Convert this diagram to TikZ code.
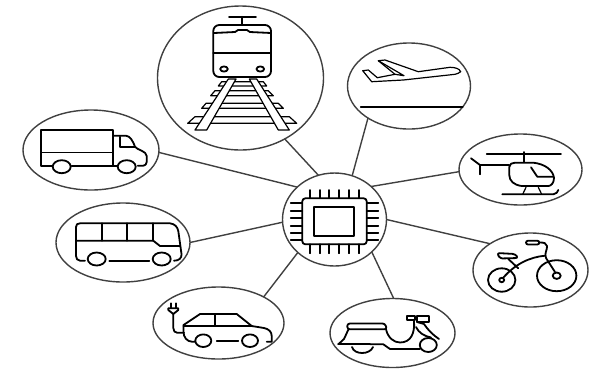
\documentclass[tikz,border=0pt]{standalone}
\usetikzlibrary{shapes.geometric}
\tikzset{
  vehicle/.style={draw=black!75, line width=1.4pt, ellipse, inner sep=0pt, outer sep=0pt},
  spoke/.style={draw=black!75, line width=1.4pt},
  icon/.style={line width=1.8pt, line join=round, line cap=round},
  thinicon/.style={line width=1.2pt, line join=round, line cap=round}
}
\begin{document}
\begin{tikzpicture}[x=1pt, y=-1pt]
  \useasboundingbox (0,0) rectangle (597,368);

  % Ellipses
  \node[vehicle, minimum width=104pt, minimum height=93pt] (hub) at (334.5,219.5) {};
  \node[vehicle, minimum width=166pt, minimum height=144pt] (train) at (240.5,78) {};
  \node[vehicle, minimum width=123pt, minimum height=86pt] (plane) at (409,86) {};
  \node[vehicle, minimum width=123pt, minimum height=71pt] (heli) at (520.5,169.5) {};
  \node[vehicle, minimum width=115pt, minimum height=74pt] (bike) at (530.5,270) {};
  \node[vehicle, minimum width=125pt, minimum height=69pt] (scooter) at (392.5,333) {};
  \node[vehicle, minimum width=131pt, minimum height=72pt] (ecar) at (218.5,323) {};
  \node[vehicle, minimum width=134pt, minimum height=79pt] (bus) at (123,242.5) {};
  \node[vehicle, minimum width=136pt, minimum height=80pt] (truck) at (91,150) {};

  % Spokes
  \draw[spoke] (hub.110) -- (train.-54);
  \draw[spoke] (hub.68.5) -- (plane.-142);
  \draw[spoke] (hub.42.5) -- (heli.-178);
  \draw[spoke] (hub.0) -- (bike.147.6);
  \draw[spoke] (hub.-41.8) -- (scooter.88);
  \draw[spoke] (hub.-138) -- (ecar.30);
  \draw[spoke] (hub.-177) -- (bus.0);
  \draw[spoke] (hub.139) -- (truck.-2);

  % Chip
  \draw[icon, rounded corners=3pt] (302.3,198.3) rectangle (366.7,244.3);
  \draw[icon] (314.3,207.3) rectangle (354.3,235.7);
  \foreach \x in {310,319.7,329.3,339.3,349.3,359} {
    \draw[icon] (\x,190) -- (\x,198.3);
    \draw[icon] (\x,244.3) -- (\x,253.3);
  }
  \foreach \y in {203.3,210.7,218.3,225.7,233,240} {
    \draw[icon] (290.7,\y) -- (302.3,\y);
    \draw[icon] (366.7,\y) -- (378.3,\y);
  }

  % Train
  \foreach \ya/\yb/\xa/\xb/\xc/\xd in {81.7/86/218.3/221.7/263.3/266.7, 90.7/95.7/210.7/215/268.3/273.3,
      103.3/108.3/201.7/206/278.3/283.3, 116.7/123.3/187.7/195/289.3/296.7} {
    \draw[thinicon, fill=white] (\xb,\ya) -- (\xc,\ya) -- (\xd,\yb) -- (\xa,\yb) -- cycle;
  }
  \draw[thinicon, fill=white] (228.3,79) -- (236,79) -- (206.7,130) -- (195,130) -- cycle;
  \draw[thinicon, fill=white] (249.3,79) -- (256.7,79) -- (289.3,130) -- (278.3,130) -- cycle;
  \draw[icon] (229,16.7) -- (256,16.7);
  \draw[icon] (242.3,16.7) -- (242.3,25);
  \draw[icon, rounded corners=6pt, fill=white] (213.3,25) rectangle (271,77);
  \draw[icon] (213.3,53.3) -- (271,53.3);
  \draw[icon] (214,33) -- (235,32) -- (238,30) -- (247,30) -- (250,32) -- (271,33);
  \draw[icon] (224,69) ellipse (3.8pt and 2.6pt);
  \draw[icon] (260.3,69) ellipse (3.8pt and 2.6pt);

  % Plane
  \draw[thinicon] (362.7,70.7) -- (368.3,70) -- (377.3,77.7) -- (395,74.3) -- (378.3,60.7) -- (385,60)
    -- (418.3,71.7) -- (450,67.3) .. controls (456,67.5) and (459,68.5) .. (460.7,71.7)
    .. controls (459,73) and (457,74) .. (455,74.3) -- (403.3,80) -- (371.7,81.7) -- cycle;
  \draw[thinicon] (378.3,60.7) -- (404,75.7) -- (395,74.3);
  \draw[icon] (360.7,106.7) -- (462.7,106.7);

  % Helicopter
  \draw[icon] (486.7,154) -- (561,154);
  \draw[icon] (524,152) -- (524,162);
  \draw[icon] (471,158.3) -- (480,165) -- (509.3,165);
  \draw[icon] (480,165) -- (480,174.3);
  \draw[icon] (515,162.7) -- (533.3,162.7) .. controls (545,164) and (553,170) .. (554,178)
    .. controls (554,183) and (551,186) .. (548.3,186) -- (521.7,186)
    .. controls (514,185) and (509.3,181) .. (509.3,175) -- (509.3,167) .. controls (509.3,164) and (512,162.7) .. (515,162.7);
  \draw[icon] (531,167.3) -- (537.3,176.7) -- (553.3,176.7);
  \draw[icon] (502.3,194.3) -- (553.3,194.3) .. controls (556,194) and (558,192) .. (558.3,190);
  \draw[thinicon] (526,187.3) -- (522.7,194.3);
  \draw[thinicon] (538.3,187.3) -- (541.7,194.3);

  % Bicycle
  \draw[icon] (501.7,280) ellipse (13.7pt and 11.7pt);
  \draw[icon] (501.7,280) ellipse (2.5pt and 2.2pt);
  \draw[icon] (556.7,275.7) ellipse (19.7pt and 15.5pt);
  \draw[icon] (556.7,275.7) ellipse (4pt and 3.2pt);
  \draw[icon] (503,278) .. controls (515,264) and (530,257) .. (545,255.7);
  \draw[icon] (555,272) -- (546,258) .. controls (544,253) and (547.5,250) .. (547,246)
    .. controls (546.5,243) and (544,242.5) .. (539.3,242.5);
  \draw[icon, rounded corners=2pt] (526,240.7) rectangle (539.3,244.5);
  \draw[icon, rounded corners=2.5pt] (497,253) -- (515,254) -- (518.3,258) -- (500,258.5) -- cycle;
  \draw[icon] (508.3,259) -- (518.3,268.3);

  % Scooter
  \draw[icon, rounded corners=2.5pt] (347.3,323.5) -- (385,323.5) -- (387,329.3) -- (347.3,329.3) -- cycle;
  \draw[icon] (338.3,344.3) -- (344,339) .. controls (346,335) and (347,332) .. (348.5,329.3);
  \draw[icon] (338.3,344.3) -- (370,344.3);
  \draw[icon] (370,344.3) -- (383.3,344.3) -- (390,349) -- (420,349);
  \draw[icon] (386,329.3) .. controls (388,338) and (394,342.5) .. (400,342.5)
    .. controls (411,342.5) and (415,333) .. (414,321);
  \draw[icon] (352,347) .. controls (354,355) and (370,355) .. (373,347);
  \draw[icon] (428.3,345) ellipse (8.5pt and 7pt);
  \draw[icon] (417,322) -- (424,324) .. controls (428,330) and (433,335) .. (439,339);
  \draw[icon] (416,327) .. controls (419,333) and (424,336) .. (431,337.5);
  \draw[icon] (407.3,315.7) rectangle (415,320);
  \draw[icon] (416.7,315.7) rectangle (429.3,321.7);

  % Electric car
  \draw[icon] (171,303.3) -- (171,308.3);
  \draw[icon] (175.7,303.3) -- (175.7,308.3);
  \draw[icon] (168.3,308.3) -- (178.3,308.3) -- (178.3,310) -- (173.3,314) -- (168.3,310) -- cycle;
  \draw[icon] (173.3,314) -- (173.3,328) .. controls (173.3,331) and (175,332.7) .. (177,332.7) -- (184,332.7);
  \draw[icon] (195,341.7) -- (192,341.7) .. controls (187,341.7) and (183.5,337) .. (183.5,332) -- (183.5,325) -- (200,314)
    -- (236.7,314) -- (251.7,326) -- (264,328) .. controls (269,329) and (271.7,332) .. (271.7,336) -- (271.7,341.7) -- (266.7,341.7);
  \draw[icon] (183.5,326) -- (251.7,326);
  \draw[icon] (215,314) -- (215,326);
  \draw[icon] (203.3,340.7) ellipse (8pt and 6.3pt);
  \draw[icon] (250,340.7) ellipse (8pt and 6.3pt);
  \draw[icon] (216.7,340.7) -- (238.3,340.7);

  % Bus
  \draw[icon] (85,260.7) -- (80,260.7) .. controls (77.5,260.7) and (76,258.5) .. (76,256) -- (76,227)
    .. controls (76,224.5) and (77.5,223.3) .. (80,223.3) -- (170,223.3) .. controls (175,224) and (177.5,227) .. (178.3,231)
    -- (181.5,254) .. controls (182,258) and (179,260.7) .. (174,260.7);
  \draw[icon] (76,240.7) -- (153.3,240.7) -- (160,246) -- (180,246);
  \foreach \x in {101.7,127.3,153.3} {
    \draw[icon] (\x,223.3) -- (\x,240.7);
  }
  \draw[icon] (96.7,259) ellipse (9pt and 6.5pt);
  \draw[icon] (161.7,259) ellipse (9pt and 6.5pt);
  \draw[icon] (109.3,260.7) -- (149.3,260.7);

  % Truck
  \draw[icon] (51.7,165.7) -- (41,165.7) -- (41,130) -- (113.3,130) -- (113.3,165.7);
  \draw[thinicon] (41,152.3) -- (113.3,152.3);
  \draw[icon] (71.7,165.7) -- (116.7,165.7);
  \draw[icon] (113.3,135.7) -- (126,135.7) .. controls (130,136) and (133,141) .. (135,146.7)
    .. controls (137,150) and (146.7,151) .. (146.7,156) -- (146.7,162) .. controls (146.7,164) and (145,165.7) .. (143.3,165.7) -- (137.7,165.7);
  \draw[icon] (120,136.7) -- (120,147) -- (135,147);
  \draw[icon] (61.7,166.7) ellipse (9pt and 6.5pt);
  \draw[icon] (126.7,166.7) ellipse (9pt and 6.5pt);
\end{tikzpicture}
\end{document}
